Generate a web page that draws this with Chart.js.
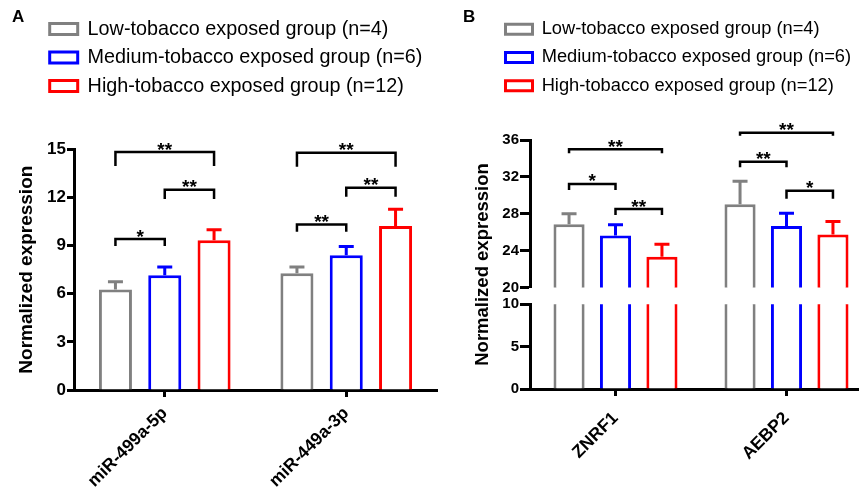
<!DOCTYPE html>
<html>
<head>
<meta charset="utf-8">
<script src="https://cdn.jsdelivr.net/npm/chart.js@4.4.1/dist/chart.umd.min.js"></script>
<style>
  html, body { margin: 0; padding: 0; background: #fff; overflow: hidden; }
  #wrap { position: relative; width: 859px; height: 490px; overflow: hidden; }
  #chartA { position: absolute; left: 0; top: 0; }
  #chartB { position: absolute; left: 430px; top: 0; }
</style>
</head>
<body>
<div id="wrap">
  <canvas id="chartA" width="445" height="490"></canvas>
  <canvas id="chartB" width="460" height="490"></canvas>
</div>
<script>
const groupNames = [
    "Low-tobacco exposed group (n=4)",
    "Medium-tobacco exposed group (n=6)",
    "High-tobacco exposed group (n=12)"
];
const groupColors = ["#808080", "#0000ff", "#ff0000"];

// panel A - miRNAs
const mirLabels = ["miR-499a-5p", "miR-449a-3p"];
const mirLowMean = [6.27, 7.27];
const mirLowSd = [0.47, 0.40];
const mirMedMean = [7.15, 8.39];
const mirMedSd = [0.52, 0.55];
const mirHighMean = [9.33, 10.22];
const mirHighSd = [0.65, 1.05];
const mirTicks = [0, 3, 6, 9, 12, 15];
// [category, from group, to group, bracket level, leg end, stars]
const mirBrackets = [
    [0, 0, 1, 9.41, 8.97, "*"],
    [0, 1, 2, 12.48, 11.9, "**"],
    [0, 0, 2, 14.83, 13.96, "**"],
    [1, 0, 1, 10.32, 9.86, "**"],
    [1, 1, 2, 12.6, 12.04, "**"],
    [1, 0, 2, 14.79, 13.91, "**"]
];

// panel B - genes
const geneLabels = ["ZNRF1", "AEBP2"];
const geneLowMean = [26.85, 29.02];
const geneLowSd = [1.15, 2.5];
const geneMedMean = [25.65, 26.66];
const geneMedSd = [1.15, 1.4];
const geneHighMean = [23.33, 25.76];
const geneHighSd = [1.37, 1.4];
const geneUpperTicks = [20, 24, 28, 32, 36];
const geneLowerTicks = [0, 5, 10];
const geneBrackets = [
    [0, 0, 1, 31.23, 30.58, "*"],
    [0, 1, 2, 28.51, 27.86, "**"],
    [0, 0, 2, 35.0, 34.57, "**"],
    [1, 0, 1, 33.65, 33.04, "**"],
    [1, 1, 2, 30.5, 29.63, "*"],
    [1, 0, 2, 36.8, 36.45, "**"]
];

Chart.defaults.font.family = "Arial, 'Liberation Sans', sans-serif";
Chart.defaults.color = "#000";

// error bars, significance brackets, panel letter, legend placement
const annotate = {
    id: "annotate",
    beforeDraw(chart, args, opts) {
        if (opts.legendAt) {
            chart.legend.left = opts.legendAt[0];
            chart.legend.top = opts.legendAt[1];
        }
    },
    afterDraw(chart, args, opts) {
        const ctx = chart.ctx;
        ctx.save();
        ctx.lineCap = "butt";
        ctx.lineJoin = "miter";

        opts.errors.forEach((sd, i) => {
            const meta = chart.getDatasetMeta(i);
            const ds = chart.data.datasets[i];
            ctx.strokeStyle = ds.borderColor;
            ctx.lineWidth = 3;
            meta.data.forEach((bar, j) => {
                const y0 = meta.vScale.getPixelForValue(ds.data[j]);
                const y1 = meta.vScale.getPixelForValue(ds.data[j] + sd[j]);
                ctx.beginPath();
                ctx.moveTo(bar.x, y0);
                ctx.lineTo(bar.x, y1);
                ctx.moveTo(bar.x - 7.5, y1);
                ctx.lineTo(bar.x + 7.5, y1);
                ctx.stroke();
            });
        });

        const yScale = chart.scales[opts.scaleId];
        ctx.strokeStyle = "#000";
        ctx.fillStyle = "#000";
        ctx.lineWidth = 2.5;
        ctx.font = "bold 19px Arial, 'Liberation Sans', sans-serif";
        ctx.textAlign = "center";
        ctx.textBaseline = "alphabetic";
        opts.brackets.forEach(([c, a, b, level, leg, stars]) => {
            const xa = chart.getDatasetMeta(a).data[c].x;
            const xb = chart.getDatasetMeta(b).data[c].x;
            const yl = yScale.getPixelForValue(level);
            const yg = yScale.getPixelForValue(leg);
            ctx.beginPath();
            ctx.moveTo(xa, yg);
            ctx.lineTo(xa, yl);
            ctx.lineTo(xb, yl);
            ctx.lineTo(xb, yg);
            ctx.stroke();
            ctx.fillText(stars, (xa + xb) / 2, yl + 3.5);
        });

        ctx.font = "bold 17px Arial, 'Liberation Sans', sans-serif";
        ctx.textAlign = "left";
        ctx.textBaseline = "middle";
        ctx.fillText(opts.letter[0], opts.letter[1], opts.letter[2]);

        if (opts.yTitle) {
            const top = chart.scales[opts.yTitle.from].top;
            const bottom = chart.scales[opts.yTitle.to].bottom;
            ctx.translate(opts.yTitle.x, (top + bottom) / 2);
            ctx.rotate(-Math.PI / 2);
            ctx.textAlign = "center";
            ctx.font = "bold 18.5px Arial, 'Liberation Sans', sans-serif";
            ctx.fillText("Normalized expression", 0, 0);
        }
        ctx.restore();
    }
};

function barSet(i, values, extra) {
    return Object.assign({
        label: groupNames[i],
        data: values,
        backgroundColor: "#ffffff",
        borderColor: groupColors[i],
        borderWidth: 3,
        borderSkipped: "bottom",
        categoryPercentage: 0.815,
        barPercentage: 0.67
    }, extra || {});
}

function xAxis(fontSize, pad, height) {
    return {
        offset: true,
        grid: { offset: false, drawOnChartArea: false, drawTicks: true, tickLength: 7, tickWidth: 3, tickColor: "#000" },
        border: { display: true, color: "#000", width: 3 },
        ticks: { font: { size: fontSize, weight: "bold" }, maxRotation: 45, minRotation: 45, padding: pad, color: "#000" },
        afterFit: s => { s.height = height; }
    };
}

function yAxis(ticks, fontSize, tickLen, width, extra) {
    return Object.assign({
        type: "linear",
        min: ticks[0],
        max: ticks[ticks.length - 1],
        afterBuildTicks: s => { s.ticks = ticks.map(v => ({ value: v })); },
        grid: { drawOnChartArea: false, drawTicks: true, tickLength: tickLen, tickWidth: 3, tickColor: "#000" },
        border: { display: true, color: "#000", width: 3 },
        ticks: { font: { size: fontSize, weight: "bold" }, padding: 1, color: "#000" },
        afterFit: s => { s.width = width; }
    }, extra || {});
}

new Chart(document.getElementById("chartA"), {
    type: "bar",
    data: {
        labels: mirLabels,
        datasets: [
            barSet(0, mirLowMean),
            barSet(1, mirMedMean),
            barSet(2, mirHighMean)
        ]
    },
    plugins: [annotate],
    options: {
        responsive: false,
        animation: false,
        layout: { padding: { top: 53.8, right: 8, bottom: 0, left: 0 } },
        scales: {
            x: xAxis(17.5, 6, 100),
            y: yAxis(mirTicks, 17, 7, 74, {
                title: {
                    display: true,
                    text: "Normalized expression",
                    font: { size: 19, weight: "bold" },
                    padding: { top: 15.6, bottom: 0 }
                }
            })
        },
        plugins: {
            tooltip: { enabled: false },
            legend: {
                position: "top",
                align: "start",
                labels: { boxWidth: 28, boxHeight: 11, padding: 8.7, font: { size: 19.8 }, color: "#000" }
            },
            annotate: {
                legendAt: [41, 10.5],
                errors: [mirLowSd, mirMedSd, mirHighSd],
                scaleId: "y",
                brackets: mirBrackets,
                letter: ["A", 12, 17]
            }
        }
    }
});

const stackIds = ["low", "med", "high"];
new Chart(document.getElementById("chartB"), {
    type: "bar",
    data: {
        labels: geneLabels,
        datasets: [
            barSet(0, geneLowMean, { yAxisID: "yTop", stack: stackIds[0], clip: 0 }),
            barSet(1, geneMedMean, { yAxisID: "yTop", stack: stackIds[1], clip: 0 }),
            barSet(2, geneHighMean, { yAxisID: "yTop", stack: stackIds[2], clip: 0 }),
            barSet(0, geneLowMean, { yAxisID: "yLow", stack: stackIds[0], clip: 0 }),
            barSet(1, geneMedMean, { yAxisID: "yLow", stack: stackIds[1], clip: 0 }),
            barSet(2, geneHighMean, { yAxisID: "yLow", stack: stackIds[2], clip: 0 })
        ]
    },
    plugins: [annotate],
    options: {
        responsive: false,
        animation: false,
        layout: { padding: { top: 45.1, right: 18, bottom: 0, left: 0 } },
        scales: {
            x: xAxis(17.5, 12, 101),
            yLow: yAxis(geneLowerTicks, 15, 10, 100, { position: "left", stack: "gene", stackWeight: 84.7, stacked: false }),
            yGap: {
                type: "linear", position: "left", stack: "gene", stackWeight: 16.7,
                ticks: { display: false },
                grid: { display: false, drawTicks: false },
                border: { display: false },
                afterFit: s => { s.width = 100; }
            },
            yTop: yAxis(geneUpperTicks, 15, 10, 100, { position: "left", stack: "gene", stackWeight: 147.3, stacked: false })
        },
        plugins: {
            tooltip: { enabled: false },
            legend: {
                position: "top",
                align: "start",
                labels: {
                    boxWidth: 27, boxHeight: 10, padding: 10, font: { size: 18.3 }, color: "#000",
                    filter: item => item.datasetIndex < 3
                }
            },
            annotate: {
                legendAt: [65.5, 10],
                errors: [geneLowSd, geneMedSd, geneHighSd],
                scaleId: "yTop",
                brackets: geneBrackets,
                letter: ["B", 33, 17],
                yTitle: { from: "yTop", to: "yLow", x: 53 }
            }
        }
    }
});
</script>
</body>
</html>
